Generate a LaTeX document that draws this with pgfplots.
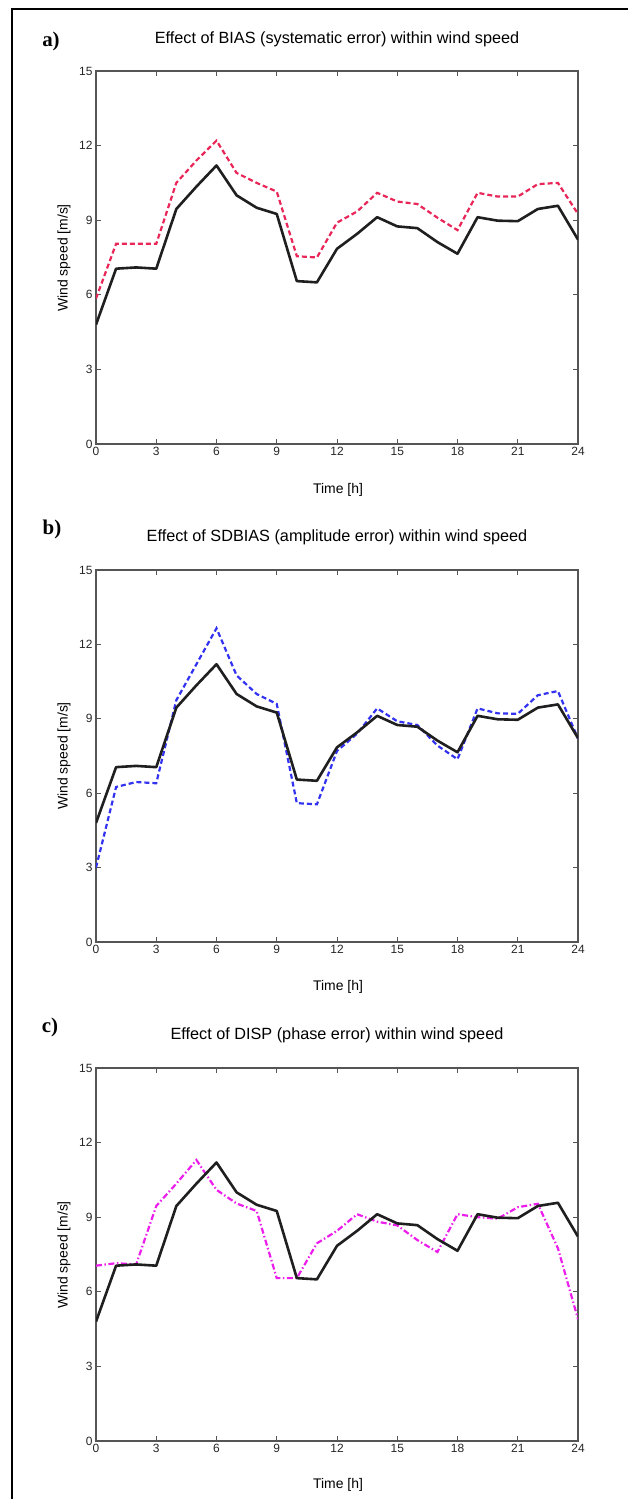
\documentclass[border=0pt]{standalone}
\usepackage{fontspec}
\setmainfont{Liberation Sans}
\newfontfamily\serifb{Liberation Serif}
\usepackage{pgfplots}
\usepackage{pgfplotstable}
\pgfplotsset{compat=1.18}

\definecolor{biasred}{RGB}{232,38,88}
\definecolor{sdblue}{RGB}{50,50,240}
\definecolor{dispmag}{RGB}{236,30,236}
\definecolor{axgray}{RGB}{85,85,85}

\pgfplotstableread{
t  obs   bias   sd     disp
0  4.80  5.85   3.00   7.05
1  7.05  8.05   6.25   7.15
2  7.10  8.05   6.45   7.10
3  7.05  8.05   6.40   9.45
4  9.45  10.50  9.75   10.35
5  10.35 11.40  11.20  11.30
6  11.20 12.20  12.65  10.10
7  10.00 10.90  10.75  9.55
8  9.50  10.50  10.00  9.25
9  9.25  10.15  9.60   6.55
10 6.55  7.55   5.60   6.55
11 6.50  7.50   5.55   7.95
12 7.85  8.90   7.70   8.45
13 8.45  9.35   8.40   9.12
14 9.12  10.10  9.42   8.82
15 8.75  9.75   8.90   8.67
16 8.68  9.65   8.75   8.08
17 8.12  9.10   7.92   7.60
18 7.65  8.60   7.37   9.12
19 9.12  10.10  9.42   9.00
20 8.98  9.95   9.22   8.94
21 8.96  9.95   9.20   9.40
22 9.45  10.45  9.95   9.54
23 9.58  10.50  10.12  7.75
24 8.22  9.25   8.20   4.90
}\winddata

\pgfplotsset{
  panel/.style={
    scale only axis, width=482bp, height=373bp, anchor=south west,
    xmin=0, xmax=24, ymin=0, ymax=15,
    xtick={0,3,...,24}, ytick={0,3,...,15},
    tick align=inside, major tick length=5bp,
    axis line style={axgray, line width=1.2bp},
    every tick/.style={axgray, line width=0.9bp},
    ticklabel style={font=\fontsize{12}{12}\selectfont, text=black!85},
    /pgf/number format/assume math mode=true,
  },
  obsline/.style={black!88, line width=2.6bp, line join=round},
}

\begin{document}
\begin{tikzpicture}
\useasboundingbox (0bp,0bp) rectangle (628bp,1499bp);
\draw[line width=2.5bp] (12bp,0bp) -- (12bp,1490bp) -- (628bp,1490bp);

% ---------- a) ----------
\begin{axis}[panel, at={(96bp,1055bp)}]
\addplot[biasred, line width=2.2bp, dash pattern=on 5bp off 3bp] table[x=t,y=bias] {\winddata};
\addplot[obsline] table[x=t,y=obs] {\winddata};
\end{axis}
\node[font=\serifb\bfseries\fontsize{21}{21}\selectfont] at (51bp,1458bp) {a)};
\node[font=\fontsize{16.3}{17}\selectfont] at (337bp,1460bp) {Effect of BIAS (systematic error) within wind speed};
\node[font=\fontsize{14}{14}\selectfont] at (338bp,1009bp) {Time [h]};
\node[font=\fontsize{14}{14}\selectfont, rotate=90] at (64bp,1241bp) {Wind speed [m/s]};

% ---------- b) ----------
\begin{axis}[panel, height=372bp, at={(96bp,557bp)}]
\addplot[sdblue, line width=2.2bp, dash pattern=on 5bp off 3bp] table[x=t,y=sd] {\winddata};
\addplot[obsline] table[x=t,y=obs] {\winddata};
\end{axis}
\node[font=\serifb\bfseries\fontsize{21}{21}\selectfont] at (52bp,970bp) {b)};
\node[font=\fontsize{16.3}{17}\selectfont] at (337bp,962bp) {Effect of SDBIAS (amplitude error) within wind speed};
\node[font=\fontsize{14}{14}\selectfont] at (338bp,512bp) {Time [h]};
\node[font=\fontsize{14}{14}\selectfont, rotate=90] at (64bp,743bp) {Wind speed [m/s]};

% ---------- c) ----------
\begin{axis}[panel, at={(96bp,58bp)}]
\addplot[dispmag, line width=2.2bp, dash pattern=on 6bp off 2.5bp on 1.5bp off 2.5bp] table[x=t,y=disp] {\winddata};
\addplot[obsline] table[x=t,y=obs] {\winddata};
\end{axis}
\node[font=\serifb\bfseries\fontsize{21}{21}\selectfont] at (50bp,472bp) {c)};
\node[font=\fontsize{16.3}{17}\selectfont] at (337bp,464bp) {Effect of DISP (phase error) within wind speed};
\node[font=\fontsize{14}{14}\selectfont] at (338bp,14bp) {Time [h]};
\node[font=\fontsize{14}{14}\selectfont, rotate=90] at (64bp,244bp) {Wind speed [m/s]};
\end{tikzpicture}
\end{document}
